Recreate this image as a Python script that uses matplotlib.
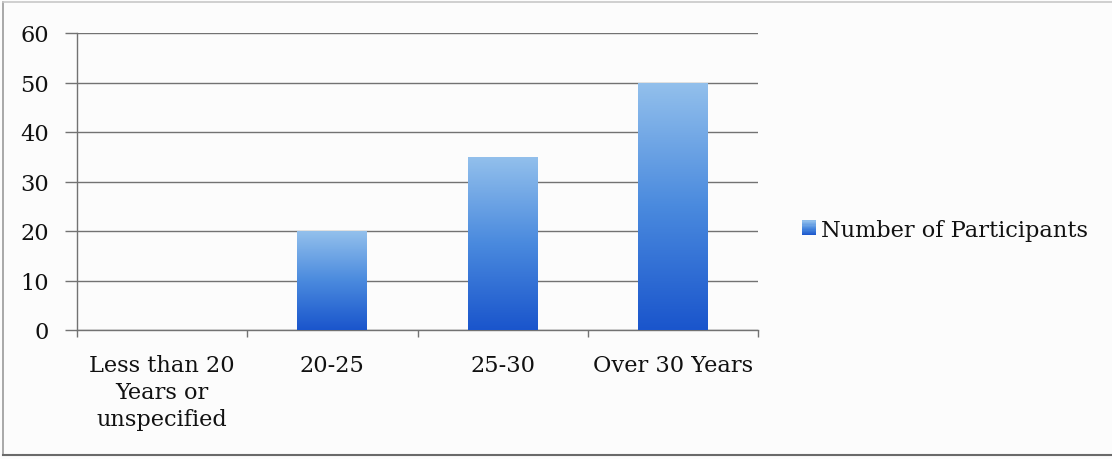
import numpy as np
import matplotlib
matplotlib.use("Agg")
import matplotlib.pyplot as plt
from matplotlib.patches import Rectangle
from matplotlib.legend_handler import HandlerBase
from matplotlib.colors import LinearSegmentedColormap
from matplotlib.lines import Line2D

categories = ["Less than 20\nYears or\nunspecified", "20-25", "25-30", "Over 30 Years"]
participants = [0, 20, 35, 50]
series_name = "Number of Participants"
y_ticks = [0, 10, 20, 30, 40, 50, 60]

plt.rcParams["font.family"] = ["DejaVu Serif", "Liberation Serif"]
FS = 16.2
GRID = "#727272"
TEXT = "#111111"

blue_grad = LinearSegmentedColormap.from_list("bluegrad", ["#1a55cc", "#4a8ade", "#93c0ec"])

fig = plt.figure(figsize=(11.12, 4.6), dpi=100, facecolor="#fcfcfc")
ax = fig.add_axes([77 / 1112, 1 - 331 / 460, (758 - 77) / 1112, (331 - 34) / 460])
ax.set_facecolor("none")

x = np.arange(len(categories))
bars = ax.bar(x, participants, width=0.41, color="none", edgecolor="none", zorder=3)

# vertical gradient inside each bar
grad = np.linspace(0, 1, 256).reshape(-1, 1)
for b in bars:
    h = b.get_height()
    if h <= 0:
        continue
    x0, w = b.get_x(), b.get_width()
    im = ax.imshow(grad, cmap=blue_grad, origin="lower", aspect="auto",
                   extent=(x0, x0 + w, 0, h), zorder=3, interpolation="bilinear")
    im.set_clip_path(b)

ax.set_xlim(-0.5, len(categories) - 0.5)
ax.set_ylim(0, 60)
ax.set_yticks(y_ticks)
ax.set_yticklabels([str(v) for v in y_ticks], fontsize=FS, color=TEXT)
ax.yaxis.grid(True, color=GRID, linewidth=1.0, zorder=1)
ax.set_axisbelow(True)

# category boundaries carry the tick marks, labels sit at the centres
ax.set_xticks(np.arange(len(categories) + 1) - 0.5)
ax.set_xticklabels([])
ax.set_xticks(x, minor=True)
ax.set_xticklabels(categories, minor=True, fontsize=FS, color=TEXT, linespacing=1.31,
                   va="top")
ax.tick_params(axis="x", which="major", direction="out", length=5, width=1, color=GRID)
ax.tick_params(axis="x", which="minor", length=0, pad=17)
ax.tick_params(axis="y", direction="out", length=9, width=1, color=GRID, pad=11)

for s in ["top", "right"]:
    ax.spines[s].set_visible(False)
for s in ["left", "bottom"]:
    ax.spines[s].set_color(GRID)
    ax.spines[s].set_linewidth(1.0)


class GradientSquareHandler(HandlerBase):
    def create_artists(self, legend, orig_handle, xdescent, ydescent, width, height,
                       fontsize, trans):
        n = 12
        artists = []
        for i in range(n):
            c = blue_grad((i + 0.5) / n)
            r = Rectangle((-xdescent, -ydescent + height * i / n), width, height / n + 0.3,
                          facecolor=c, edgecolor="none", transform=trans)
            artists.append(r)
        return artists


proxy = Rectangle((0, 0), 1, 1)
fig.legend([proxy], [series_name], handler_map={Rectangle: GradientSquareHandler()},
           loc="center left", bbox_to_anchor=(802 / 1112, 1 - 231 / 460),
           frameon=False, fontsize=FS, handlelength=0.62, handleheight=0.62,
           handletextpad=0.22, borderpad=0, borderaxespad=0, labelcolor=TEXT)

# outer frame of the chart area
fig.add_artist(Line2D([3 / 1112, 3 / 1112], [4 / 460, 1 - 3 / 460], transform=fig.transFigure,
                      color="#9a9a9a", linewidth=1.2))
fig.add_artist(Line2D([3 / 1112, 1], [1 - 3 / 460, 1 - 3 / 460], transform=fig.transFigure,
                      color="#c8c8c8", linewidth=1.2))
fig.add_artist(Line2D([3 / 1112, 1], [4 / 460, 4 / 460], transform=fig.transFigure,
                      color="#6a6a6a", linewidth=1.5))

fig.savefig("out.png", dpi=100, facecolor=fig.get_facecolor())
